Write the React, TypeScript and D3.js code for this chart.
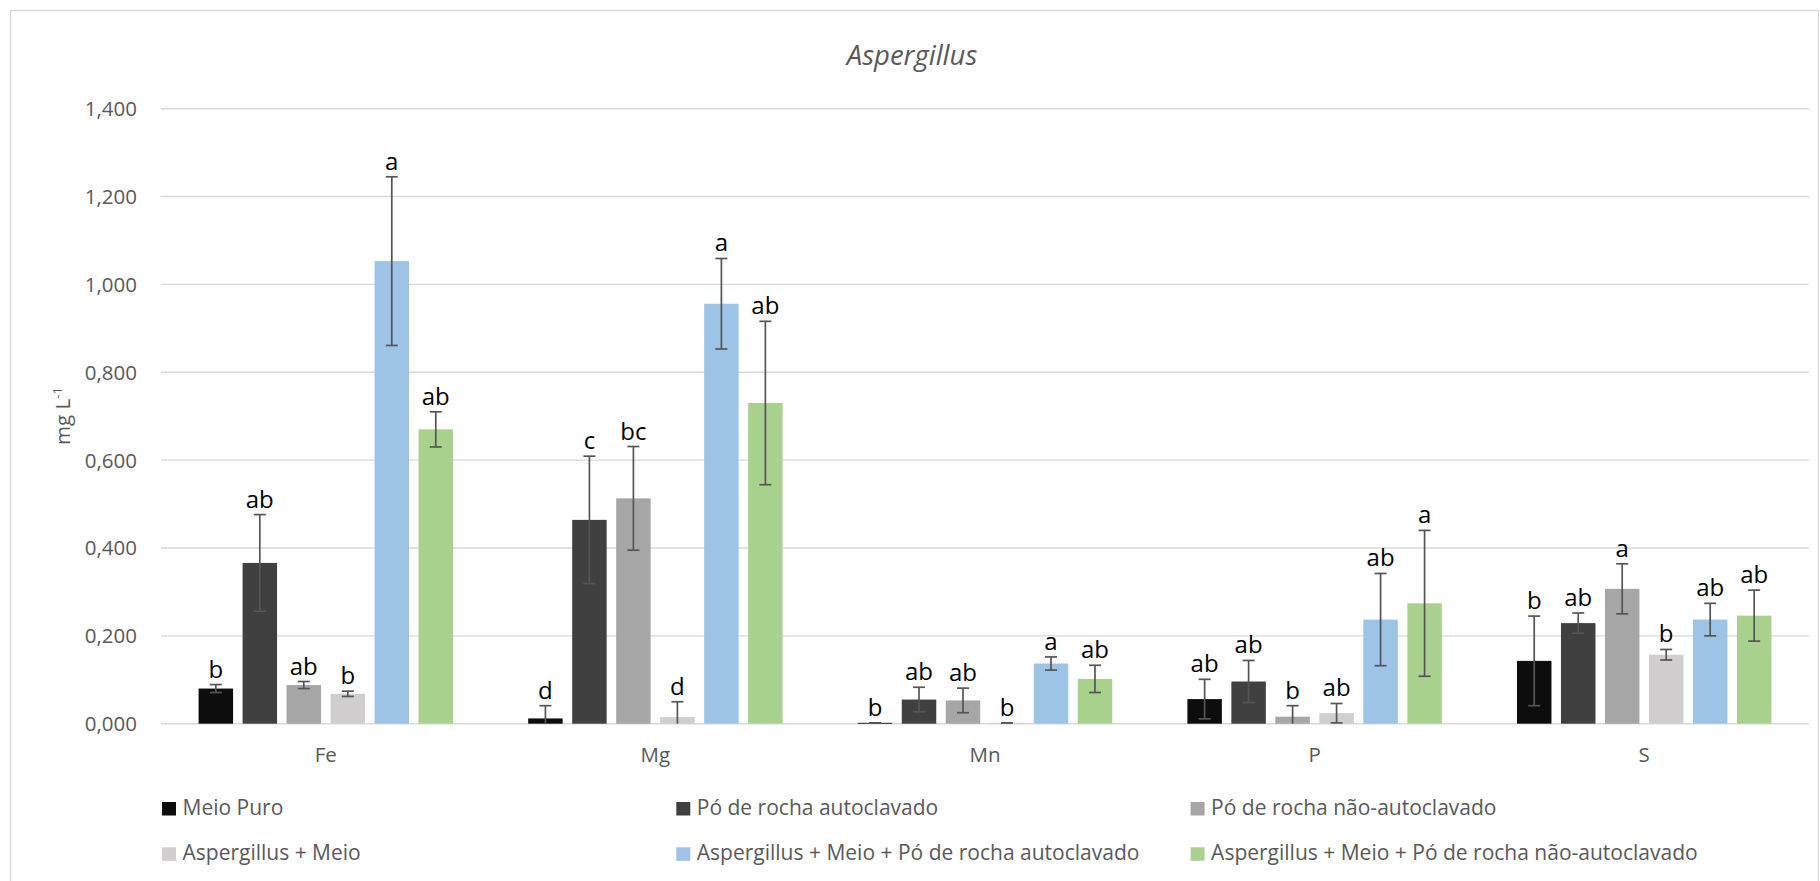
import { useEffect, useRef } from "react";
import * as d3 from "d3";

const categories = ["Fe", "Mg", "Mn", "P", "S"];

const seriesNames = [
  "Meio Puro",
  "Pó de rocha autoclavado",
  "Pó de rocha não-autoclavado",
  "Aspergillus + Meio",
  "Aspergillus + Meio + Pó de rocha autoclavado",
  "Aspergillus + Meio + Pó de rocha não-autoclavado",
];

const colors = ["#0d0d0d", "#404040", "#a6a6a6", "#d0cece", "#9dc3e6", "#a9d18e"];

// means (mg L-1), one array per treatment, in category order
const meioPuro = [0.08, 0.012, 0.002, 0.056, 0.143];
const poAuto = [0.366, 0.464, 0.055, 0.096, 0.229];
const poNao = [0.088, 0.513, 0.053, 0.016, 0.307];
const aspMeio = [0.068, 0.015, 0.002, 0.024, 0.157];
const aspPoAuto = [1.053, 0.956, 0.137, 0.237, 0.237];
const aspPoNao = [0.67, 0.73, 0.102, 0.274, 0.246];

// error bar half-lengths
const meioPuroErr = [0.009, 0.029, 0, 0.045, 0.102];
const poAutoErr = [0.11, 0.145, 0.028, 0.048, 0.023];
const poNaoErr = [0.008, 0.118, 0.028, 0.025, 0.057];
const aspMeioErr = [0.006, 0.035, 0, 0.022, 0.012];
const aspPoAutoErr = [0.192, 0.103, 0.015, 0.105, 0.037];
const aspPoNaoErr = [0.04, 0.186, 0.031, 0.166, 0.058];

// Tukey letters
const meioPuroLetters = ["b", "d", "b", "ab", "b"];
const poAutoLetters = ["ab", "c", "ab", "ab", "ab"];
const poNaoLetters = ["ab", "bc", "ab", "b", "a"];
const aspMeioLetters = ["b", "d", "b", "ab", "b"];
const aspPoAutoLetters = ["a", "a", "a", "ab", "ab"];
const aspPoNaoLetters = ["ab", "ab", "ab", "a", "ab"];

const yTicks = [0, 0.2, 0.4, 0.6, 0.8, 1.0, 1.2, 1.4];

const values = [meioPuro, poAuto, poNao, aspMeio, aspPoAuto, aspPoNao];
const errors = [meioPuroErr, poAutoErr, poNaoErr, aspMeioErr, aspPoAutoErr, aspPoNaoErr];
const letters = [
  meioPuroLetters,
  poAutoLetters,
  poNaoLetters,
  aspMeioLetters,
  aspPoAutoLetters,
  aspPoNaoLetters,
];

const FONT = "'Open Sans', sans-serif";
const W = 1820;
const H = 881;

export default function App() {
  const svgRef = useRef<SVGSVGElement>(null);

  useEffect(() => {
    if (!svgRef.current) return;
    const svg = d3.select(svgRef.current);
    svg.selectAll("*").remove();

    const left = 161;
    const right = 1809;
    const top = 108.7;
    const bottom = 723.7;

    const x0 = d3
      .scaleBand<string>()
      .domain(categories)
      .range([left, right])
      .paddingInner(0.228)
      .paddingOuter(0.114);

    const x1 = d3
      .scaleBand<number>()
      .domain(d3.range(seriesNames.length))
      .range([0, x0.bandwidth()])
      .paddingInner(0.216)
      .paddingOuter(0);

    const y = d3.scaleLinear().domain([0, 1.4]).range([bottom, top]);
    const fmt = (v: number) => d3.format(".3f")(v).replace(".", ",");

    // chart border
    svg
      .append("rect")
      .attr("x", 10.5)
      .attr("y", 10.5)
      .attr("width", 1808)
      .attr("height", 900)
      .attr("fill", "none")
      .attr("stroke", "#d9d9d9")
      .attr("stroke-width", 1.3);

    // title
    svg
      .append("text")
      .attr("x", 912)
      .attr("y", 65)
      .attr("text-anchor", "middle")
      .attr("font-family", FONT)
      .attr("font-style", "italic")
      .attr("font-size", 27.5)
      .attr("fill", "#595959")
      .text("Aspergillus");

    // gridlines + tick labels
    const grid = svg.append("g");
    grid
      .selectAll("line")
      .data(yTicks)
      .join("line")
      .attr("x1", left)
      .attr("x2", right)
      .attr("y1", (d) => y(d))
      .attr("y2", (d) => y(d))
      .attr("stroke", "#d9d9d9")
      .attr("stroke-width", 1.4);

    grid
      .selectAll("text")
      .data(yTicks)
      .join("text")
      .attr("x", 137)
      .attr("y", (d) => y(d) + 7.5)
      .attr("text-anchor", "end")
      .attr("font-family", FONT)
      .attr("font-size", 20.5)
      .attr("fill", "#595959")
      .text((d) => fmt(d));

    // y axis title
    const yt = svg
      .append("text")
      .attr("transform", "translate(70,416) rotate(-90)")
      .attr("text-anchor", "middle")
      .attr("font-family", FONT)
      .attr("font-size", 20.5)
      .attr("fill", "#595959");
    yt.append("tspan").text("mg L");
    yt.append("tspan").attr("font-size", 13).attr("dy", -8).text("-1");

    // category labels
    svg
      .append("g")
      .selectAll("text")
      .data(categories)
      .join("text")
      .attr("x", (d) => x0(d)! + x0.bandwidth() / 2)
      .attr("y", 762)
      .attr("text-anchor", "middle")
      .attr("font-family", FONT)
      .attr("font-size", 20.5)
      .attr("fill", "#595959")
      .text((d) => d);

    type Cell = { s: number; c: number; v: number; e: number; l: string };
    const cells: Cell[] = [];
    values.forEach((arr, s) =>
      arr.forEach((v, c) => cells.push({ s, c, v, e: errors[s][c], l: letters[s][c] }))
    );
    const bx = (d: Cell) => x0(categories[d.c])! + x1(d.s)!;
    const cx = (d: Cell) => bx(d) + x1.bandwidth() / 2;

    const g = svg.append("g");
    g.selectAll("rect.bar")
      .data(cells)
      .join("rect")
      .attr("class", "bar")
      .attr("x", bx)
      .attr("width", x1.bandwidth())
      .attr("y", (d) => y(d.v))
      .attr("height", (d) => bottom - y(d.v))
      .attr("fill", (d) => colors[d.s]);

    // error bars
    const eg = g
      .selectAll("g.err")
      .data(cells)
      .join("g")
      .attr("class", "err")
      .attr("stroke", "#555555")
      .attr("stroke-width", 1.7);
    eg.append("line")
      .attr("x1", cx)
      .attr("x2", cx)
      .attr("y1", (d) => y(d.v + d.e))
      .attr("y2", (d) => y(Math.max(0, d.v - d.e)));
    eg.append("line")
      .attr("x1", (d) => cx(d) - 6)
      .attr("x2", (d) => cx(d) + 6)
      .attr("y1", (d) => y(d.v + d.e))
      .attr("y2", (d) => y(d.v + d.e));
    eg.filter((d) => d.v - d.e >= 0)
      .append("line")
      .attr("x1", (d) => cx(d) - 6)
      .attr("x2", (d) => cx(d) + 6)
      .attr("y1", (d) => y(d.v - d.e))
      .attr("y2", (d) => y(d.v - d.e));

    // significance letters
    g.selectAll("text.letter")
      .data(cells)
      .join("text")
      .attr("class", "letter")
      .attr("x", cx)
      .attr("y", (d) => y(d.v + d.e) - 7)
      .attr("text-anchor", "middle")
      .attr("font-family", FONT)
      .attr("font-size", 24)
      .attr("fill", "#000000")
      .text((d) => d.l);

    // legend
    const legX = [162, 676.3, 1190.6];
    const legY = [802, 847.3];
    const lg = svg
      .append("g")
      .selectAll("g")
      .data(seriesNames)
      .join("g")
      .attr("transform", (_, i) => `translate(${legX[i % 3]},${legY[Math.floor(i / 3)]})`);
    lg.append("rect")
      .attr("width", 14)
      .attr("height", 13.5)
      .attr("fill", (_, i) => colors[i]);
    lg.append("text")
      .attr("x", 20.5)
      .attr("y", 13)
      .attr("font-family", FONT)
      .attr("font-size", 21)
      .attr("fill", "#595959")
      .text((d) => d);
  }, []);

  return (
    <svg
      ref={svgRef}
      width={W}
      height={H}
      style={{ position: "absolute", left: 0, top: 0, background: "#ffffff" }}
    />
  );
}
